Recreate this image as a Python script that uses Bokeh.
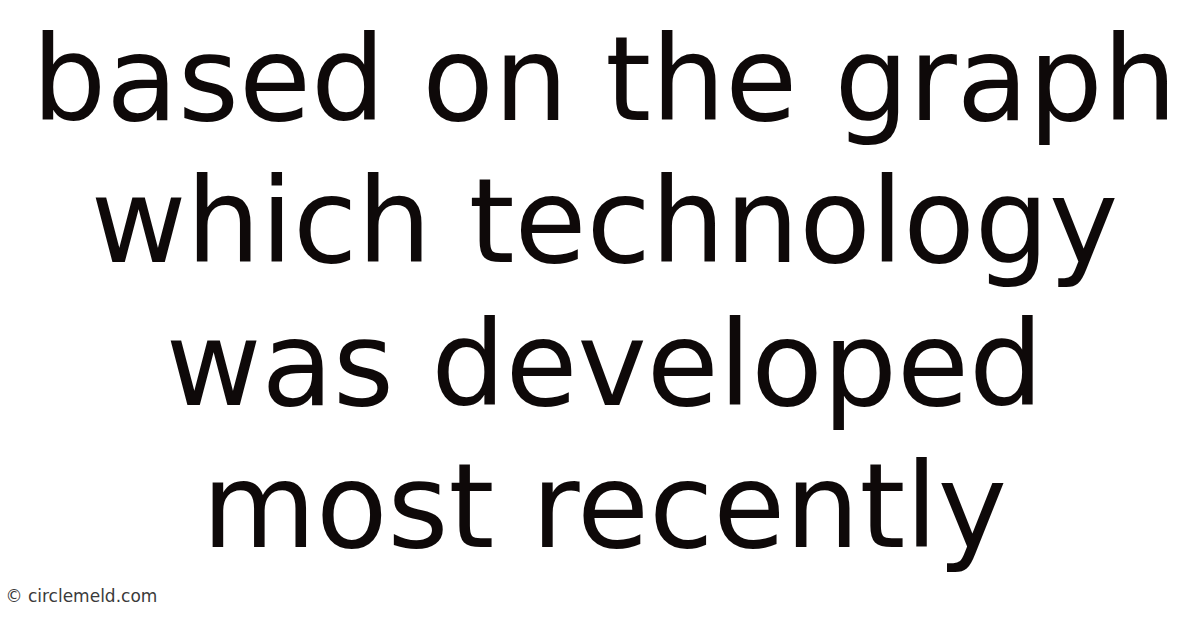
from bokeh.plotting import figure
from bokeh.models import Range1d, ColumnDataSource
from bokeh.core.properties import value
from bokeh.embed import file_html
from bokeh.resources import INLINE

# Title lines of the image
title_lines = [
    "based on the graph",
    "which technology",
    "was developed",
    "most recently",
]
watermark = "\u00a9 circlemeld.com"

# layout (page pixel coordinates)
W, H = 1184, 612
CENTER_X = 612
FIRST_BASELINE = 87
LINE_STEP = 142.3

p = figure(width=W, height=H, output_backend="svg", toolbar_location=None,
           x_range=Range1d(8, 8 + W), y_range=Range1d(8 + H, 8),
           min_border=0, min_border_left=0, min_border_right=0,
           min_border_top=0, min_border_bottom=0)
p.axis.visible = False
p.grid.visible = False
p.outline_line_color = None
p.background_fill_color = "white"
p.border_fill_color = "white"

src = ColumnDataSource(dict(
    x=[CENTER_X] * len(title_lines),
    y=[FIRST_BASELINE + i * LINE_STEP for i in range(len(title_lines))],
    t=title_lines,
))
p.text(x="x", y="y", text="t", source=src,
       text_font=value("DejaVu Sans"), text_font_size="117px",
       text_align="center", text_baseline="alphabetic",
       text_color="#0e0909")

p.text(x=[13], y=[603], text=[watermark],
       text_font=value("DejaVu Sans"), text_font_size="17px",
       text_align="left", text_baseline="alphabetic",
       text_color="#3a3a3a")

open("out.html", "w").write(file_html(p, INLINE))
